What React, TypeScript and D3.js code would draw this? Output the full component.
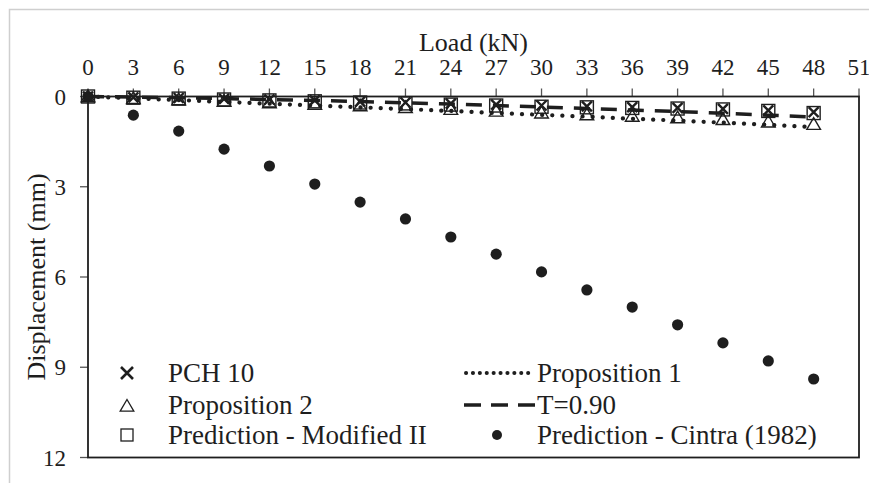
import React, { useEffect, useRef } from 'react';
import * as d3 from 'd3';

// Load steps (kN)
const loads = [0, 3, 6, 9, 12, 15, 18, 21, 24, 27, 30, 33, 36, 39, 42, 45, 48];
// Displacements (mm)
const pch10 = [0, 0.03, 0.05, 0.08, 0.1, 0.13, 0.17, 0.2, 0.24, 0.27, 0.3, 0.33, 0.35, 0.38, 0.41, 0.46, 0.52];
const proposition2 = [0, 0.06, 0.1, 0.15, 0.2, 0.25, 0.3, 0.36, 0.42, 0.48, 0.54, 0.6, 0.65, 0.7, 0.76, 0.84, 0.92];
const modifiedII = [0, 0.04, 0.07, 0.1, 0.13, 0.16, 0.2, 0.23, 0.27, 0.3, 0.34, 0.36, 0.38, 0.4, 0.43, 0.48, 0.55];
const proposition1 = [0, 0.06, 0.12, 0.18, 0.24, 0.3, 0.36, 0.42, 0.48, 0.55, 0.61, 0.67, 0.74, 0.8, 0.87, 0.94, 1.02];
const t090 = [0, 0.02, 0.04, 0.07, 0.1, 0.13, 0.17, 0.21, 0.25, 0.3, 0.35, 0.4, 0.45, 0.5, 0.56, 0.62, 0.68];
const cintra = [0, 0.62, 1.15, 1.75, 2.31, 2.91, 3.51, 4.07, 4.67, 5.24, 5.83, 6.43, 7.0, 7.59, 8.19, 8.79, 9.39];

const xTicks = d3.range(0, 52, 3);
const yTicks = [0, 3, 6, 9, 12];

const FONT = '"Liberation Serif", "Times New Roman", Times, serif';
const INK = '#1e1e1e';

const App: React.FC = () => {
    const svgRef = useRef<SVGSVGElement>(null);
    const width = 869;
    const height = 483;

    useEffect(() => {
        const svg = d3.select(svgRef.current);
        svg.selectAll('*').remove();

        const x = d3.scaleLinear().domain([0, 51]).range([88, 859]);
        const y = d3.scaleLinear().domain([0, 12]).range([96.5, 457.5]);

        // outer figure frame (light gray)
        svg.append('path')
            .attr('d', `M9.5,${height} V9.5 H${width}`)
            .attr('fill', 'none')
            .attr('stroke', '#cfcfcf')
            .attr('stroke-width', 1.5);

        // x axis ticks (top, outward)
        svg.append('g')
            .selectAll('line')
            .data(xTicks)
            .enter()
            .append('line')
            .attr('x1', d => x(d)).attr('x2', d => x(d))
            .attr('y1', y(0) - 8).attr('y2', y(0))
            .attr('stroke', '#555')
            .attr('stroke-width', 1.3);

        svg.append('g')
            .selectAll('text')
            .data(xTicks)
            .enter()
            .append('text')
            .attr('x', d => x(d))
            .attr('y', 75)
            .attr('text-anchor', 'middle')
            .style('font-family', FONT)
            .style('font-size', '23px')
            .style('fill', INK)
            .text(d => d);

        // y axis ticks (left, outward)
        svg.append('g')
            .selectAll('line')
            .data(yTicks)
            .enter()
            .append('line')
            .attr('x1', x(0) - 8).attr('x2', x(0))
            .attr('y1', d => y(d)).attr('y2', d => y(d))
            .attr('stroke', '#555')
            .attr('stroke-width', 1.3);

        svg.append('g')
            .selectAll('text')
            .data(yTicks)
            .enter()
            .append('text')
            .attr('x', 66)
            .attr('y', d => y(d))
            .attr('dy', '0.35em')
            .attr('text-anchor', 'end')
            .style('font-family', FONT)
            .style('font-size', '23px')
            .style('fill', INK)
            .text(d => d);

        // plot frame
        svg.append('rect')
            .attr('x', x(0))
            .attr('y', y(0))
            .attr('width', x(51) - x(0))
            .attr('height', y(12) - y(0))
            .attr('fill', 'none')
            .attr('stroke', INK)
            .attr('stroke-width', 1.8);

        // titles
        svg.append('text')
            .attr('x', x(25.5))
            .attr('y', 51)
            .attr('text-anchor', 'middle')
            .style('font-family', FONT)
            .style('font-size', '26px')
            .style('fill', INK)
            .text('Load (kN)');

        svg.append('text')
            .attr('transform', `translate(45, ${y(6)}) rotate(-90)`)
            .attr('text-anchor', 'middle')
            .style('font-family', FONT)
            .style('font-size', '26px')
            .style('fill', INK)
            .text('Displacement (mm)');

        const line = (vals: number[]) =>
            d3.line<number>()
                .x((_, i) => x(loads[i]))
                .y(d => y(d))(vals) || '';

        // Proposition 1 - dotted
        svg.append('path')
            .attr('d', line(proposition1))
            .attr('fill', 'none')
            .attr('stroke', INK)
            .attr('stroke-width', 4.2)
            .attr('stroke-linecap', 'round')
            .attr('stroke-dasharray', '0.1 10');

        // T=0.90 - dashed
        svg.append('path')
            .attr('d', line(t090))
            .attr('fill', 'none')
            .attr('stroke', INK)
            .attr('stroke-width', 3.5)
            .attr('stroke-dasharray', '16 11');

        // Cintra - filled dots
        svg.append('g')
            .selectAll('circle')
            .data(cintra)
            .enter()
            .append('circle')
            .attr('cx', (_, i) => x(loads[i]))
            .attr('cy', d => y(d))
            .attr('r', 5.6)
            .attr('fill', INK);

        const tri = (cx: number, cy: number, s: number) =>
            `M${cx},${cy - s} L${cx + s * 1.05},${cy + s * 0.8} L${cx - s * 1.05},${cy + s * 0.8} Z`;

        // Proposition 2 - open triangles
        svg.append('g')
            .selectAll('path')
            .data(proposition2)
            .enter()
            .append('path')
            .attr('d', (d, i) => tri(x(loads[i]), y(d), 6.5))
            .attr('fill', 'none')
            .attr('stroke', INK)
            .attr('stroke-width', 1.4);

        // Modified II - open squares
        svg.append('g')
            .selectAll('rect')
            .data(modifiedII)
            .enter()
            .append('rect')
            .attr('x', (_, i) => x(loads[i]) - 6.5)
            .attr('y', d => y(d) - 6.5)
            .attr('width', 13)
            .attr('height', 13)
            .attr('fill', 'none')
            .attr('stroke', INK)
            .attr('stroke-width', 1.4);

        const cross = (cx: number, cy: number, s: number) =>
            `M${cx - s},${cy - s} L${cx + s},${cy + s} M${cx + s},${cy - s} L${cx - s},${cy + s}`;

        // PCH 10 - crosses
        svg.append('g')
            .selectAll('path')
            .data(pch10)
            .enter()
            .append('path')
            .attr('d', (d, i) => cross(x(loads[i]), y(d), 5))
            .attr('fill', 'none')
            .attr('stroke', INK)
            .attr('stroke-width', 2.4);

        // Legend
        const rows = [373, 405, 435];
        const lg = svg.append('g');
        const label = (tx: number, ty: number, s: string) =>
            lg.append('text')
                .attr('x', tx)
                .attr('y', ty)
                .attr('dy', '0.35em')
                .style('font-family', FONT)
                .style('font-size', '27px')
                .style('fill', INK)
                .text(s);

        lg.append('path').attr('d', cross(127, rows[0], 6))
            .attr('stroke', INK).attr('stroke-width', 2.6).attr('fill', 'none');
        label(168, rows[0], 'PCH 10');

        lg.append('path').attr('d', tri(127, rows[1] + 1, 6.5))
            .attr('stroke', INK).attr('stroke-width', 1.3).attr('fill', 'none');
        label(168, rows[1], 'Proposition 2');

        lg.append('rect').attr('x', 121).attr('y', rows[2] - 6).attr('width', 12).attr('height', 12)
            .attr('stroke', INK).attr('stroke-width', 1.3).attr('fill', 'none');
        label(168, rows[2], 'Prediction - Modified II');

        lg.append('line').attr('x1', 466).attr('x2', 535).attr('y1', rows[0]).attr('y2', rows[0])
            .attr('stroke', INK).attr('stroke-width', 4)
            .attr('stroke-linecap', 'round').attr('stroke-dasharray', '0.1 6.8');
        label(537, rows[0], 'Proposition 1');

        lg.append('line').attr('x1', 464).attr('x2', 535).attr('y1', rows[1]).attr('y2', rows[1])
            .attr('stroke', INK).attr('stroke-width', 3.5).attr('stroke-dasharray', '17 10');
        label(537, rows[1], 'T=0.90');

        lg.append('circle').attr('cx', 497).attr('cy', rows[2]).attr('r', 5).attr('fill', INK);
        label(537, rows[2], 'Prediction - Cintra (1982)');
    }, []);

    return (
        <svg
            ref={svgRef}
            width={width}
            height={height}
            style={{ position: 'absolute', left: 0, top: 0, background: '#fff' }}
        />
    );
};

export default App;
